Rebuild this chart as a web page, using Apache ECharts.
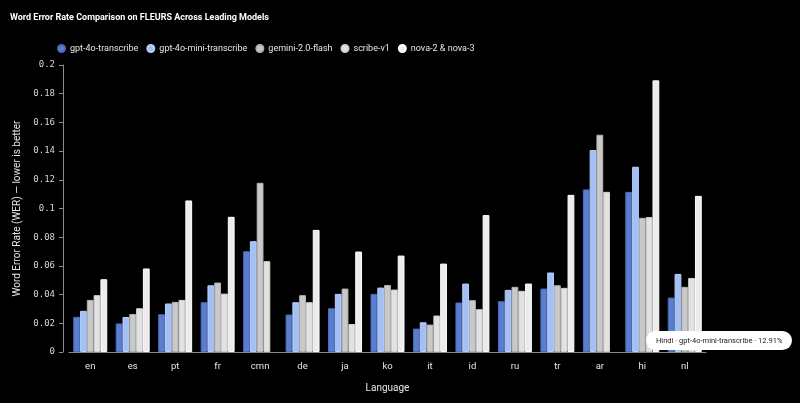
<!DOCTYPE html>
<html>
<head>
<meta charset="utf-8">
<script src="https://cdn.jsdelivr.net/npm/echarts@6/dist/echarts.min.js"></script>
<style>
  html, body { margin: 0; padding: 0; background: #000; }
  #chart { width: 800px; height: 403px; }
</style>
</head>
<body>
<div id="chart"></div>
<script>
// languages on the x axis
const languages = ['en', 'es', 'pt', 'fr', 'cmn', 'de', 'ja', 'ko', 'it', 'id', 'ru', 'tr', 'ar', 'hi', 'nl'];
const languageNames = {
    en: 'English', es: 'Spanish', pt: 'Portuguese', fr: 'French', cmn: 'Mandarin',
    de: 'German', ja: 'Japanese', ko: 'Korean', it: 'Italian', id: 'Indonesian',
    ru: 'Russian', tr: 'Turkish', ar: 'Arabic', hi: 'Hindi', nl: 'Dutch'
};

// WER per model (null = no result)
const gpt4oTranscribe     = [0.0245, 0.0199, 0.0263, 0.0347, 0.0702, 0.0261, 0.0305, 0.0405, 0.0163, 0.0345, 0.0354, 0.0442, 0.1133, 0.1116, 0.0379];
const gpt4oMiniTranscribe = [0.0287, 0.0244, 0.0338, 0.0465, 0.0772, 0.0347, 0.0405, 0.0449, 0.0207, 0.0477, 0.0433, 0.0554, 0.1407, 0.1291, 0.0544];
const gemini20Flash       = [0.0363, 0.0265, 0.0349, 0.0484, 0.1179, 0.0396, 0.0442, 0.0467, 0.0191, 0.0361, 0.0454, 0.0465, 0.1514, 0.0935, 0.0454];
const scribeV1            = [0.0396, 0.0305, 0.0363, 0.0407, 0.0633, 0.0347, 0.0195, 0.0435, 0.0254, 0.0298, 0.0426, 0.0447, 0.1116, 0.0940, 0.0516];
const nova23              = [0.0507, 0.0582, 0.1056, 0.0942, null,   0.0851, 0.0700, 0.0672, 0.0616, 0.0954, 0.0477, 0.1095, null,   0.1893, 0.1088];

const yTicks = [0, 0.02, 0.04, 0.06, 0.08, 0.1, 0.12, 0.14, 0.16, 0.18, 0.2];

const models = [
    { name: 'gpt-4o-transcribe',      data: gpt4oTranscribe,     color: '#5a7ecd', border: '#4a6cbc' },
    { name: 'gpt-4o-mini-transcribe', data: gpt4oMiniTranscribe, color: '#a3bff6', border: '#b8cffa' },
    { name: 'gemini-2.0-flash',       data: gemini20Flash,       color: '#c9c9c9', border: '#b4b4b4' },
    { name: 'scribe-v1',              data: scribeV1,            color: '#e2e2e2', border: '#d2d2d2' },
    { name: 'nova-2 & nova-3',        data: nova23,              color: '#ececec', border: '#ffffff' }
];

const font = 'Roboto';

const options = {
    backgroundColor: '#000',
    animation: false,
    title: {
        text: 'Word Error Rate Comparison on FLEURS Across Leading Models',
        left: 5,
        top: 8,
        textStyle: {
            color: '#ffffff',
            fontSize: 9,
            fontWeight: 'bold',
            fontFamily: font
        }
    },
    legend: {
        left: 52,
        top: 39,
        icon: 'circle',
        itemWidth: 7,
        itemHeight: 7,
        itemGap: 8,
        textStyle: {
            color: '#e6e6e6',
            fontSize: 9,
            fontFamily: font
        },
        data: models.map(m => m.name)
    },
    tooltip: {
        trigger: 'item',
        alwaysShowContent: true,
        transitionDuration: 0,
        backgroundColor: '#ffffff',
        borderColor: '#ffffff',
        borderWidth: 0,
        borderRadius: 10,
        padding: [4, 10],
        textStyle: {
            color: '#222',
            fontSize: 7.5,
            fontFamily: font
        },
        extraCssText: 'box-shadow:none;',
        position: [646, 331],
        formatter: p => languageNames[p.name] + ' \u00b7 ' + p.seriesName + ' \u00b7 ' + (p.value * 100).toFixed(2) + '%'
    },
    grid: {
        left: 69,
        right: 94,
        top: 65,
        bottom: 51
    },
    xAxis: {
        type: 'category',
        data: languages,
        name: 'Language',
        nameLocation: 'middle',
        nameGap: 31,
        nameTextStyle: {
            color: '#e6e6e6',
            fontSize: 10,
            fontFamily: font
        },
        axisLine: {
            lineStyle: { color: '#8a8a8a' }
        },
        axisTick: {
            alignWithLabel: true,
            length: 4,
            lineStyle: { color: '#8a8a8a' }
        },
        axisLabel: {
            color: '#e6e6e6',
            fontSize: 9.5,
            fontFamily: font,
            margin: 10
        }
    },
    yAxis: {
        type: 'value',
        min: yTicks[0],
        max: yTicks[yTicks.length - 1],
        interval: 0.02,
        offset: 6,
        name: 'Word Error Rate (WER) \u2014 lower is better',
        nameLocation: 'middle',
        nameGap: 39,
        nameTextStyle: {
            color: '#e6e6e6',
            fontSize: 10,
            fontFamily: font
        },
        axisLine: {
            show: true,
            lineStyle: { color: '#8a8a8a' }
        },
        axisTick: {
            show: true,
            length: 4,
            lineStyle: { color: '#8a8a8a' }
        },
        axisLabel: {
            color: '#d6d6d6',
            fontSize: 9,
            fontFamily: 'DejaVu Sans Mono',
            margin: 8,
            formatter: v => String(parseFloat(v.toFixed(2)))
        },
        splitLine: { show: false }
    },
    series: models.map(m => ({
        name: m.name,
        type: 'bar',
        data: m.data,
        barGap: '0%',
        barCategoryGap: '20%',
        itemStyle: {
            color: m.color,
            borderColor: m.border,
            borderWidth: 1
        },
        emphasis: { disabled: true }
    }))
};

const myChart = echarts.init(document.getElementById('chart'));
myChart.setOption(options);
myChart.dispatchAction({ type: 'showTip', seriesIndex: 1, dataIndex: 13 });
</script>
</body>
</html>
